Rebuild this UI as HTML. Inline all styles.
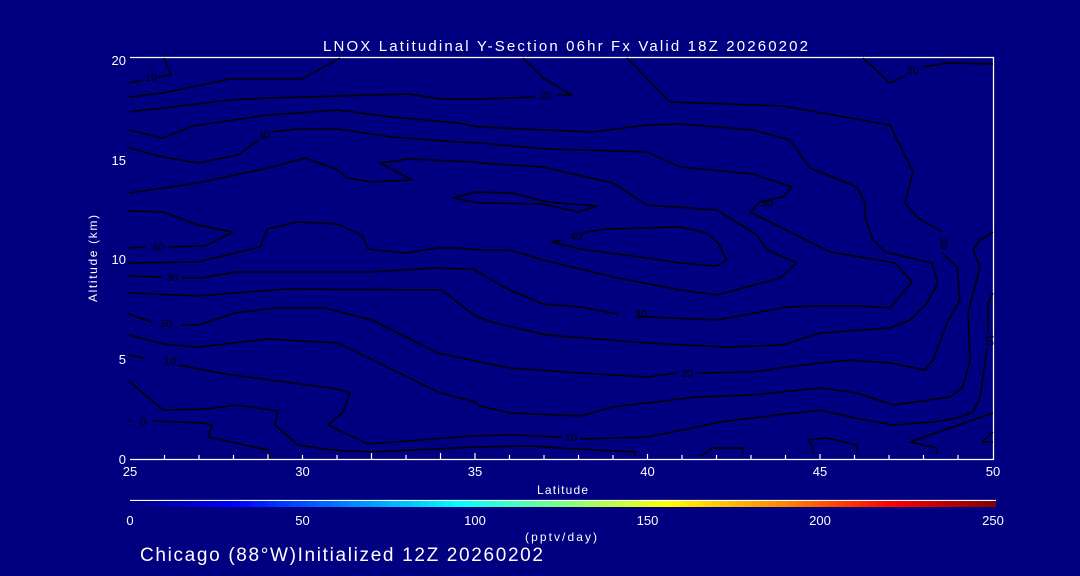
<!DOCTYPE html>
<html><head><meta charset="utf-8"><style>
html,body{margin:0;padding:0;background:#000080;}
svg{display:block}
text{font-family:"Liberation Sans",sans-serif;fill:#fff}
</style></head><body>
<svg width="1080" height="576" viewBox="0 0 1080 576" xmlns="http://www.w3.org/2000/svg">
<defs>
<linearGradient id="cb" x1="0" x2="1" y1="0" y2="0">
<stop offset="0" stop-color="#000080"/>
<stop offset="0.12" stop-color="#0000ff"/>
<stop offset="0.38" stop-color="#00ffff"/>
<stop offset="0.5" stop-color="#80ff80"/>
<stop offset="0.62" stop-color="#ffff00"/>
<stop offset="0.76" stop-color="#ff8000"/>
<stop offset="0.88" stop-color="#ff0000"/>
<stop offset="1" stop-color="#800000"/>
</linearGradient>
</defs>
<rect width="1080" height="576" fill="#000080"/>
<text x="323" y="51" font-size="15" textLength="485" lengthAdjust="spacing">LNOX Latitudinal Y-Section 06hr  Fx Valid 18Z 20260202</text>
<g stroke="#fff" stroke-width="1.3" fill="none">
<line x1="130" y1="57.5" x2="994" y2="57.5"/>
<line x1="993.5" y1="57" x2="993.5" y2="460"/>
<line x1="130" y1="459.5" x2="994" y2="459.5"/>
</g>
<g stroke="#fff" stroke-width="1.2">
<line x1="164.5" y1="459" x2="164.5" y2="455"/><line x1="199" y1="459" x2="199" y2="455"/><line x1="233.5" y1="459" x2="233.5" y2="455"/><line x1="268" y1="459" x2="268" y2="454"/><line x1="302.5" y1="459" x2="302.5" y2="455"/><line x1="337" y1="459" x2="337" y2="455"/><line x1="371.5" y1="459" x2="371.5" y2="453"/><line x1="406" y1="459" x2="406" y2="455"/><line x1="440.5" y1="459" x2="440.5" y2="453"/><line x1="475" y1="459" x2="475" y2="453"/><line x1="509.5" y1="459" x2="509.5" y2="455"/><line x1="544" y1="459" x2="544" y2="455"/><line x1="578.5" y1="459" x2="578.5" y2="455"/><line x1="613" y1="459" x2="613" y2="455"/><line x1="647.5" y1="459" x2="647.5" y2="454"/><line x1="682" y1="459" x2="682" y2="455"/><line x1="716.5" y1="459" x2="716.5" y2="455"/><line x1="751" y1="459" x2="751" y2="455"/><line x1="785.5" y1="459" x2="785.5" y2="455"/><line x1="820" y1="459" x2="820" y2="454"/><line x1="854.5" y1="459" x2="854.5" y2="455"/><line x1="889" y1="459" x2="889" y2="455"/><line x1="923.5" y1="459" x2="923.5" y2="455"/><line x1="958" y1="459" x2="958" y2="455"/>
</g>
<g font-size="13" text-anchor="middle">
<text x="130" y="476">25</text><text x="302.5" y="476">30</text><text x="475" y="476">35</text><text x="647.5" y="476">40</text><text x="820" y="476">45</text><text x="993" y="476">50</text>
</g>
<g font-size="13" text-anchor="end">
<text x="126" y="65">20</text><text x="126" y="165">15</text><text x="126" y="264">10</text><text x="126" y="364">5</text><text x="126" y="464">0</text>
</g>
<text x="537" y="494" font-size="12" textLength="51" lengthAdjust="spacing">Latitude</text>
<text transform="translate(97,302) rotate(-90)" font-size="12" textLength="87" lengthAdjust="spacing">Altitude (km)</text>
<g stroke="#000" stroke-width="1.5" fill="none" stroke-linejoin="round">
<polyline points="129,83 143,80"/><polyline points="158,77 171,75 164,58"/>
<polyline points="129,97 163,93 230,79 302,79 340,58"/>
<polyline points="129,112 163,108 230,100 268,98 408,94 442,99 480,99 535,97"/><polyline points="557,95 572,95 543,78 523,58"/>
<polyline points="129,130 163,138 193,126 268,115 338,110 392,117 458,123 480,127 523,129 593,132 647,125 680,124 753,130 790,140 810,168 857,187 865,203 865,217 873,240 885,252 932,263 938,283 927,303 910,320 890,328 820,333 783,345 727,347 647,343 547,335 495,323 475,316 442,290 285,289 198,296 129,293"/>
<polyline points="129,148 163,157 198,163 238,155 258,140"/><polyline points="272,132 298,129 338,129 392,137 458,142 480,143 547,149 647,152 680,167 753,174 792,187 783,197 760,202 750,212 830,252 895,263 912,282 890,308 863,306 817,306 787,307 717,320 647,317 637,316"/><polyline points="618,314 580,307 543,304 510,290 495,282 473,269 432,268 372,272 235,272 202,278 182,278"/><polyline points="162,277 129,276"/>
<polyline points="129,193 198,183 268,168 305,158 338,170 347,178 372,182 412,180 380,163 408,159 475,162 480,163 543,167 613,183 647,205 717,210 757,235 767,250 797,263 780,278 717,295 680,290 613,277 543,260 510,250 480,250 458,248 438,248 405,253 368,249 362,235 337,224 298,222 267,229 260,247 198,262 129,263"/>
<polyline points="453,198 475,192 512,193 547,202 597,206 578,212 543,204 480,203 453,198"/>
<polyline points="580,236 585,232 607,229 680,227 707,233 718,243 727,260 717,266 680,263 647,258 580,249 552,242 562,240"/>
<polyline points="129,211 163,212 198,225 233,232 205,246 168,247"/><polyline points="146,247 129,248"/>
<polyline points="627,58 670,102 783,106 890,125 913,172 905,203 918,218 942,232"/><polyline points="942,253 957,267 960,300 947,323 933,360 925,370 890,363 850,360 820,363 787,367 753,372 697,373"/><polyline points="677,373 647,377 580,373 510,368 480,362 438,353 372,320 325,308 275,308 235,313 198,325 182,325"/><polyline points="152,322 129,314"/>
<polyline points="863,58 890,83 905,76"/><polyline points="923,67 947,63 993,64"/>
<polyline points="129,335 163,344 198,347 268,339 338,343 438,392 475,402 480,406 510,413 580,416 613,407 697,397 753,395 820,388 857,393 893,405 950,397 963,387 970,360 968,313 980,267 973,250 980,240 993,232"/>
<polyline points="129,355 144,358"/><polyline points="178,365 225,374 338,389 350,393 343,412 328,425 368,444 472,436 510,435 562,437"/><polyline points="580,439 647,437 673,432 720,422 753,418 820,410 855,418 893,425 933,422 958,418 973,412 980,398 987,348"/><polyline points="988,333 988,303 993,293"/>
<polyline points="129,381 163,410 208,409 237,405 278,411 275,425 298,445 332,450 372,452 475,447 530,446 560,448 635,452 635,456"/>
<polyline points="129,421 132,421"/><polyline points="152,421 202,423 212,425 208,437 268,450 270,458"/>
<polyline points="700,456 713,448 743,448 743,454"/>
<polyline points="857,453 857,445 827,438 808,440 813,447 813,454"/>
<polyline points="993,413 910,442 937,448 937,454"/>
<polyline points="993,432 982,442 993,442"/>
</g>
<g font-size="11" text-anchor="middle">
<text x="151" y="81" style="fill:#000">10</text>
<text x="265" y="139" style="fill:#000" transform="rotate(-25 265 136)">40</text>
<text x="546" y="99" style="fill:#000">20</text>
<text x="158" y="251" style="fill:#000">40</text>
<text x="172" y="281" style="fill:#000">30</text>
<text x="166" y="327" style="fill:#000">20</text>
<text x="170" y="365" style="fill:#000">10</text>
<text x="143" y="425" style="fill:#000">0</text>
<text x="576" y="240" style="fill:#000">40</text>
<text x="641" y="318" style="fill:#000">30</text>
<text x="767" y="207" style="fill:#000">30</text>
<text x="687" y="377" style="fill:#000">20</text>
<text x="571" y="441" style="fill:#000">10</text>
<text x="913" y="74" style="fill:#000">20</text>
<text x="942" y="245" style="fill:#000" transform="rotate(90 942 243)">30</text>
<text x="988" y="342" style="fill:#000" transform="rotate(90 988 340)">10</text>
</g>
<line x1="130" y1="500.5" x2="996" y2="500.5" stroke="#fff" stroke-width="1.3"/>
<rect x="130" y="501" width="866" height="6" fill="url(#cb)"/>
<g font-size="13" text-anchor="middle">
<text x="130" y="525">0</text><text x="302.5" y="525">50</text><text x="475" y="525">100</text><text x="647.5" y="525">150</text><text x="820" y="525">200</text><text x="993" y="525">250</text>
</g>
<text x="525" y="541" font-size="12" textLength="72" lengthAdjust="spacing">(pptv/day)</text>
<text x="140" y="561" font-size="19" textLength="403" lengthAdjust="spacing">Chicago (88°W)Initialized 12Z 20260202</text>
</svg>
</body></html>
